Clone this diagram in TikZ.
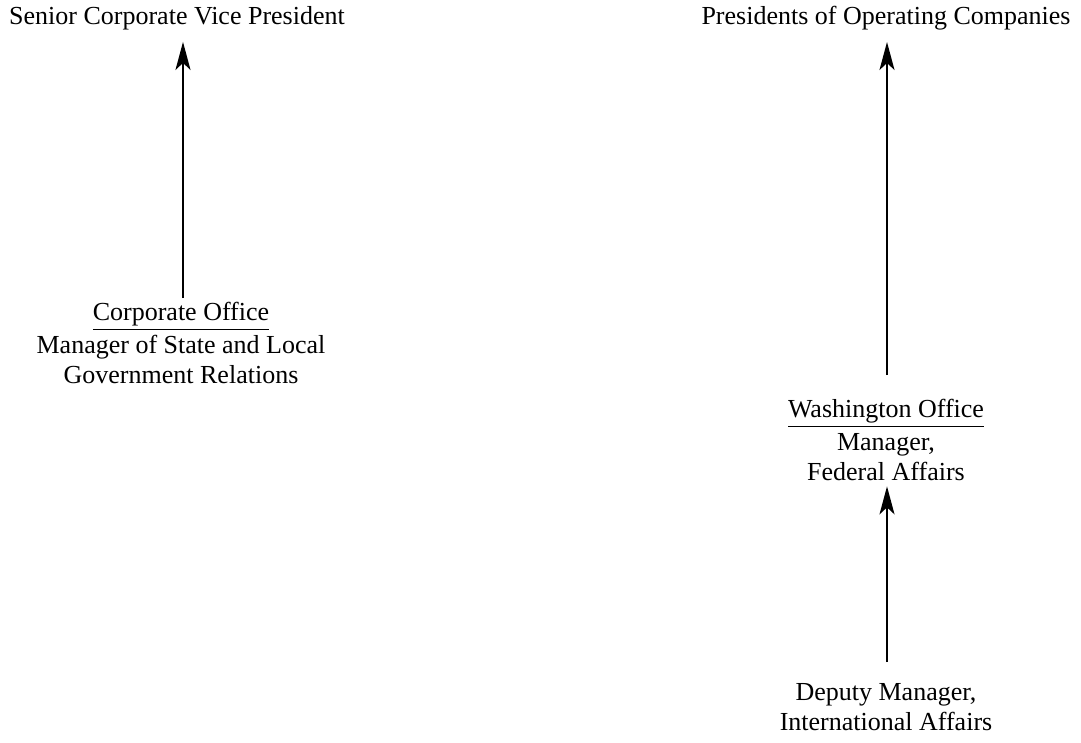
\documentclass[tikz,border=0pt]{standalone}
\usepackage{fontspec}
\setmainfont{Liberation Serif}
\usetikzlibrary{arrows.meta}
\begin{document}
\begin{tikzpicture}[x=0.5pt,y=-0.5pt,
  label/.style={inner sep=0pt,align=center,font=\fontsize{13}{15}\selectfont},
  up/.style={line width=1pt,-{Stealth[length=14pt,width=7.5pt,inset=3.5pt]}}]
\useasboundingbox (0,0) rectangle (1081,743);
% top-level positions
\node[label,anchor=base] (svp) at (177,25) {Senior Corporate Vice President};
\node[label,anchor=base] (poc) at (886,25) {Presidents of Operating Companies};
% offices
\node[label,anchor=north] (corp) at (181,302) {\underline{Corporate Office}\\[1.5pt]Manager of State and Local\\Government Relations};
\node[label,anchor=north] (wash) at (886,399) {\underline{Washington Office}\\[1.5pt]Manager,\\Federal Affairs};
\node[label,anchor=north] (dep) at (886,683) {Deputy Manager,\\International Affairs};
% reporting lines
\draw[up] ([xshift=1pt,yshift=2pt]corp.north) -- ([xshift=3pt,yshift=-5.5pt]svp.south);
\draw[up] ([xshift=0.5pt,yshift=12pt]wash.north) -- ([xshift=0.5pt,yshift=-5.5pt]poc.south);
\draw[up] ([xshift=0.5pt,yshift=10.5pt]dep.north) -- ([xshift=0.5pt,yshift=-2.5pt]wash.south);
\end{tikzpicture}
\end{document}
